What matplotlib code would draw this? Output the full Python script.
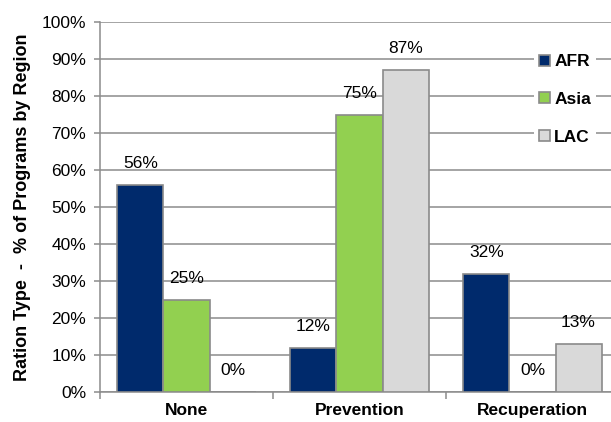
import numpy as np
import matplotlib.pyplot as plt
from matplotlib.ticker import PercentFormatter

plt.rcParams['font.family'] = ['Liberation Sans', 'DejaVu Sans']

categories = ['None', 'Prevention', 'Recuperation']
regions = ['AFR', 'Asia', 'LAC']
afr = [56, 12, 32]
asia = [25, 75, 0]
lac = [0, 87, 13]
colors = ['#002a6c', '#92d050', '#d9d9d9']

fig = plt.figure(figsize=(6.11, 4.22), dpi=100)
ax = fig.add_axes([100 / 611, 30 / 422, 519 / 611, 370 / 422])

x = np.arange(len(categories))
w = 0.266
for i, (vals, name, c) in enumerate(zip([afr, asia, lac], regions, colors)):
    pos = x + (i - 1) * w
    bars = ax.bar(pos, vals, w, color=c, edgecolor='#8a8a8a', linewidth=1.2,
                  label=name, zorder=3)
    for b, v in zip(bars, vals):
        ax.annotate(f'{v}%', (b.get_x() + b.get_width() / 2, v),
                    xytext=(0, 10), textcoords='offset points',
                    ha='center', va='bottom', fontsize=12.5)

ax.set_xlim(-0.5, 2.5)
ax.set_ylim(0, 100)
ax.set_yticks(range(0, 101, 10))
ax.yaxis.set_major_formatter(PercentFormatter(decimals=0))
ax.yaxis.grid(True, color='#8c8c8c', linewidth=1.1, zorder=0)
ax.set_xticks(x)
ax.set_xticklabels(categories, fontweight='bold', fontsize=12.5)
ax.set_xticks([-0.5, 0.5, 1.5, 2.5], minor=True)
ax.tick_params(axis='x', which='major', length=0, pad=8)
ax.tick_params(axis='x', which='minor', length=5, color='#8c8c8c', width=1.1)
ax.tick_params(axis='y', length=4, color='#8c8c8c', width=1.1, labelsize=12.5, pad=6)
for s in ['top', 'right']:
    ax.spines[s].set_visible(False)
for s in ['left', 'bottom']:
    ax.spines[s].set_color('#8c8c8c')
    ax.spines[s].set_linewidth(1.1)
ax.set_ylabel('Ration Type  -  % of Programs by Region', fontweight='bold',
              fontsize=13, labelpad=8)

leg = ax.legend(loc='upper left', bbox_to_anchor=(0.82, 0.95), frameon=True,
                facecolor='white', edgecolor='none', framealpha=1,
                prop={'weight': 'bold', 'size': 12.5}, handlelength=0.6,
                handleheight=0.6, handletextpad=0.25, labelspacing=1.3,
                borderpad=0.3)

fig.savefig('out.png', dpi=100)
